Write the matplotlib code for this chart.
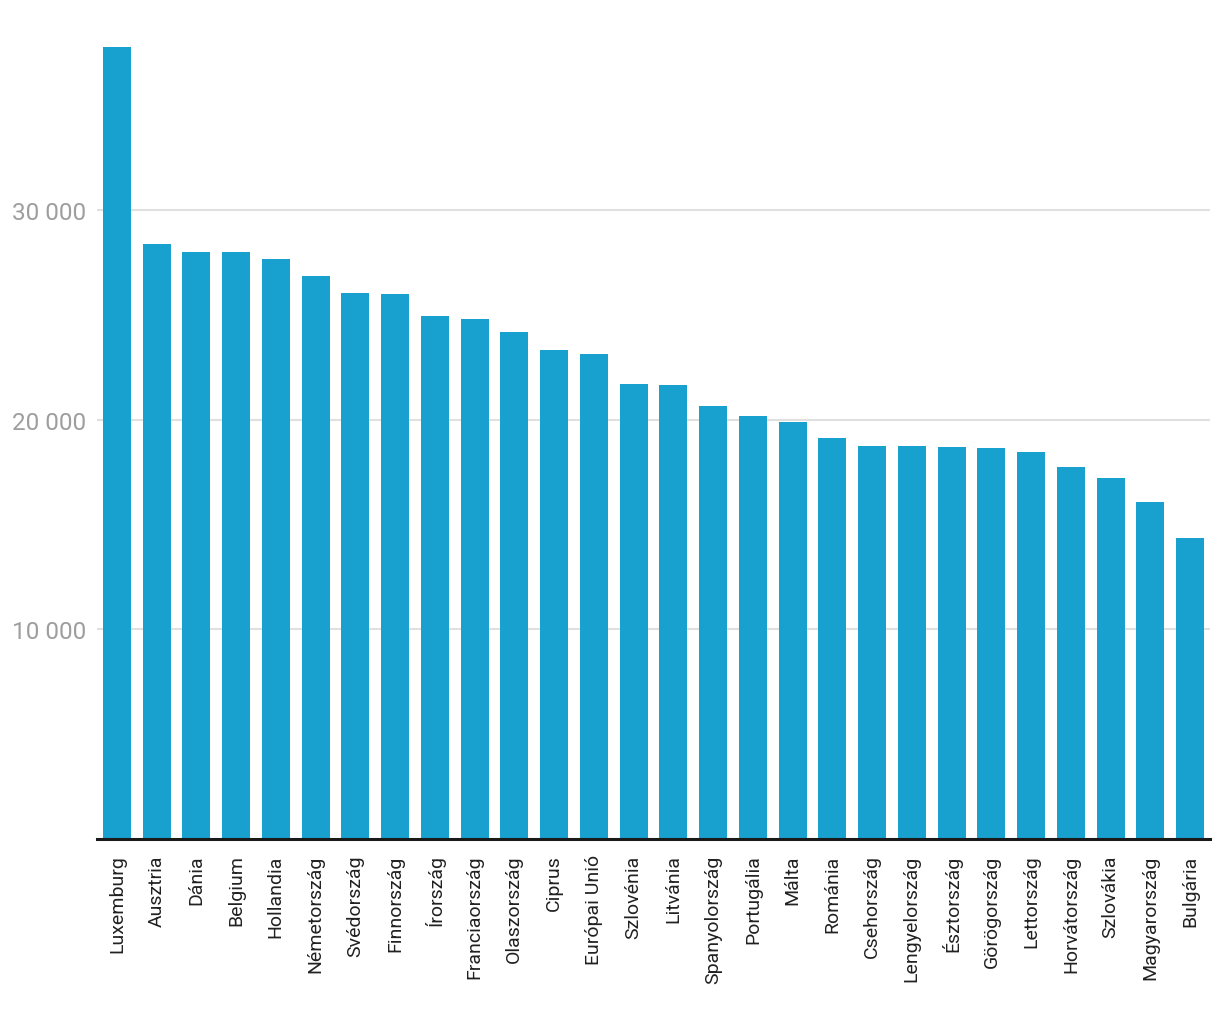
import matplotlib
matplotlib.use("Agg")
from matplotlib import pyplot as plt
from matplotlib.ticker import FuncFormatter

countries = ["Luxemburg", "Ausztria", "Dánia", "Belgium", "Hollandia", "Németország",
             "Svédország", "Finnország", "Írország", "Franciaország", "Olaszország",
             "Ciprus", "Európai Unió", "Szlovénia", "Litvánia", "Spanyolország",
             "Portugália", "Málta", "Románia", "Csehország", "Lengyelország",
             "Észtország", "Görögország", "Lettország", "Horvátország", "Szlovákia",
             "Magyarország", "Bulgária"]
values = [37750, 28380, 28000, 28000, 27660, 26850, 26040, 26000, 24940, 24800,
          24180, 23320, 23120, 21690, 21640, 20640, 20160, 19880, 19110, 18730,
          18730, 18680, 18630, 18440, 17730, 17200, 16050, 14330]
yticks = [10000, 20000, 30000]

plt.rcParams['font.family'] = ['Roboto', 'DejaVu Sans']

fig = plt.figure(figsize=(12.2, 10.2), dpi=100)
ax = fig.add_axes([97 / 1220, 180 / 1020, 1113 / 1220, 797 / 1020])

x = range(len(countries))
ax.bar(x, values, width=0.705, color="#18a1cf", zorder=3)

ax.set_xlim(-0.5, len(countries) - 0.5)
ax.set_ylim(0, 38000)
ax.set_yticks(yticks)
ax.yaxis.set_major_formatter(FuncFormatter(lambda v, p: f"{int(v):,}".replace(",", " ")))
ax.grid(axis="y", color="#e0e0e0", linewidth=1.5, zorder=0)

ax.set_xticks(list(x))
ax.set_xticklabels(countries, rotation=90, fontsize=14, color="#212121")
ax.tick_params(axis="x", length=0, pad=11)
ax.tick_params(axis="y", length=0, pad=8, labelsize=17.5, labelcolor="#9e9e9e")

for s in ["top", "right", "left"]:
    ax.spines[s].set_visible(False)
ax.spines["bottom"].set_color("#1a1a1a")
ax.spines["bottom"].set_linewidth(2.2)
ax.spines["bottom"].set_zorder(4)

fig.savefig("out.png", dpi=100)
